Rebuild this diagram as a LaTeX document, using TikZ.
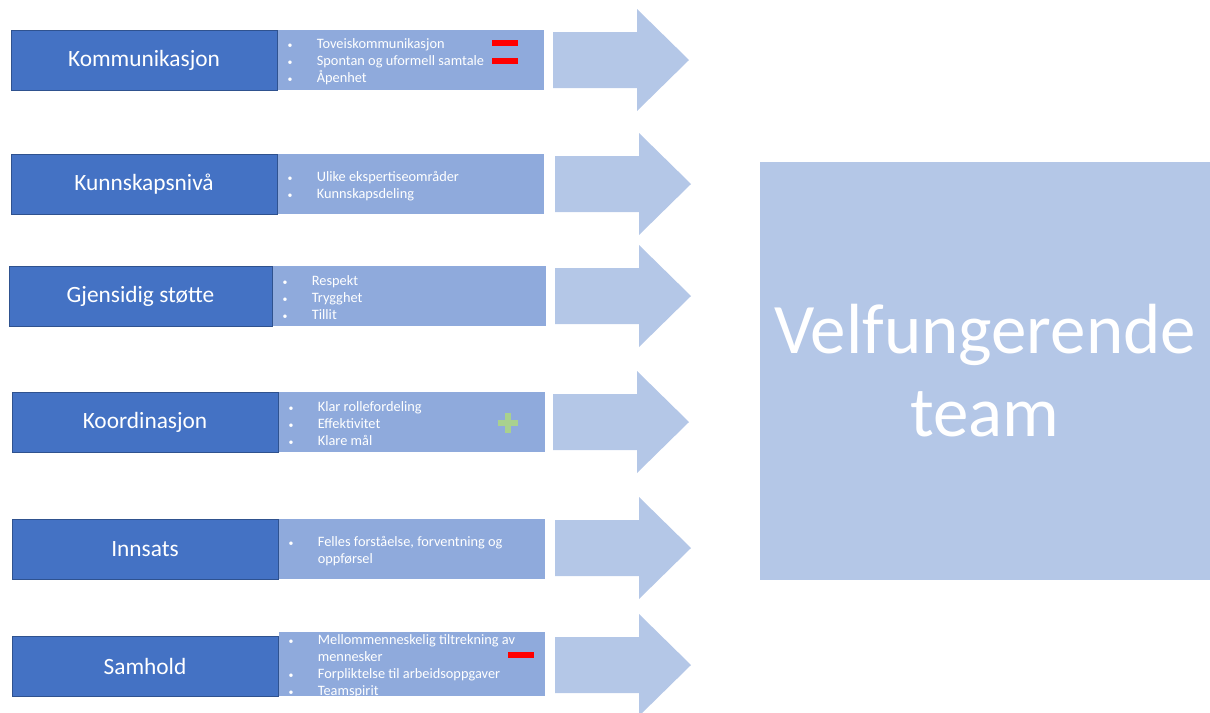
\documentclass[tikz,border=0pt]{standalone}
\usepackage{fontspec}
\setmainfont{Carlito}
\usetikzlibrary{positioning}

\definecolor{kategoriblaa}{HTML}{4472C4}
\definecolor{kategorikant}{HTML}{2F528F}
\definecolor{punktblaa}{HTML}{8FAADC}
\definecolor{pilblaa}{HTML}{B4C7E7}
\definecolor{minusrod}{HTML}{FF0000}
\definecolor{plussgronn}{HTML}{A9D18E}

\newcommand{\pkt}[1]{\makebox[0.98cm][l]{\hspace{0.25cm}{\fontsize{7}{8}\selectfont\textbullet}}#1}
\newcommand{\innrykk}[1]{\makebox[0.98cm][l]{\hspace{0.25cm}{\fontsize{7}{8}\selectfont\phantom{\textbullet}}}#1}

\tikzset{
  kategori/.style={fill=kategoriblaa, draw=kategorikant, line width=0.5pt,
    text=white, inner sep=0pt, minimum width=6.65cm, minimum height=1.5cm,
    font=\fontsize{16.6}{19}\selectfont},
  punkt/.style={fill=punktblaa, inner sep=0pt, minimum width=6.65cm,
    minimum height=1.5cm},
  punkttekst/.style={text=white, align=left, anchor=west, inner sep=0pt,
    yshift=-0.05cm, font=\fontsize{10.2}{12.05}\selectfont},
  minus/.style={fill=minusrod, inner sep=0pt, minimum width=0.65cm,
    minimum height=0.15cm},
  maal/.style={fill=pilblaa, text=white, inner sep=0pt, align=center,
    minimum width=11.25cm, minimum height=10.45cm,
    font=\fontsize{50.5}{59}\selectfont},
  blokkpil/.pic={\fill[pilblaa] (0,-28) -- (84,-28) -- (84,-51) -- (136,0)
    -- (84,51) -- (84,28) -- (0,28) -- cycle;}
}

\begin{document}
\begin{tikzpicture}[x=0.025cm,y=-0.025cm]
  \useasboundingbox (0,0) rectangle (1210,712);
  % venstre kolonne
  \node[kategori] (kom) at (144,60) {\raisebox{-3pt}{Kommunikasjon}};
  \node[kategori] (kun) at (144,184) {\raisebox{-3pt}{Kunnskapsnivå}};
  \node[kategori, minimum width=6.575cm] (gje) at (140.5,296) {\raisebox{-3pt}{Gjensidig støtte}};
  \node[kategori] (koo) at (145,422) {\raisebox{-3pt}{Koordinasjon}};
  \node[kategori] (inn) at (145,549) {\raisebox{-3pt}{Innsats}};
  \node[kategori] (sam) at (145,666) {\raisebox{-3pt}{Samhold}};
  % punktbokser
  \node[punkt, right=0pt of kom] (kompkt) {};
  \node[punkt, right=0pt of kun] (kunpkt) {};
  \node[punkt, right=0pt of gje, minimum width=6.825cm] (gjepkt) {};
  \node[punkt, right=0pt of koo] (koopkt) {};
  \node[punkt, right=0pt of inn] (innpkt) {};
  \node[punkt, right=0pt of sam, minimum height=1.6cm, yshift=0.05cm] (sampkt) {};
  \node[punkttekst] (komtxt) at (kompkt.west) {\pkt{Toveiskommunikasjon}\\
    \pkt{Spontan og uformell samtale}\\ \pkt{Åpenhet}};
  \node[punkttekst] (kuntxt) at (kunpkt.west) {\pkt{Ulike ekspertiseområder}\\
    \pkt{Kunnskapsdeling}};
  \node[punkttekst] (gjetxt) at (gjepkt.west) {\pkt{Respekt}\\ \pkt{Trygghet}\\
    \pkt{Tillit}};
  \node[punkttekst] (kootxt) at (koopkt.west) {\pkt{Klar rollefordeling}\\
    \pkt{Effektivitet}\\ \pkt{Klare mål}};
  \node[punkttekst] (inntxt) at (innpkt.west) {\pkt{Felles forståelse, forventning og}\\
    \innrykk{oppførsel}};
  \node[punkttekst] (samtxt) at (sampkt.west) {\pkt{Mellommenneskelig tiltrekning av}\\
    \innrykk{mennesker}\\ \pkt{Forpliktelse til arbeidsoppgaver}\\ \pkt{Teamspirit}};
  % pluss og minus
  \node[minus] (minus1) at (505,43) {};
  \node[minus] (minus2) at (505,61) {};
  \node[minus] (minus3) at (521,655) {};
  \draw[plussgronn, line width=0.15cm] (498,423)--(518,423) (508,413)--(508,433);
  % piler
  \pic at (553,60) {blokkpil};
  \pic at (555,184) {blokkpil};
  \pic at (555,296) {blokkpil};
  \pic at (553,422) {blokkpil};
  \pic at (555,548) {blokkpil};
  \pic at (555,665) {blokkpil};
  % maal
  \node[maal] (team) at (985,371) {Velfungerende\\team};
\end{tikzpicture}
\end{document}
